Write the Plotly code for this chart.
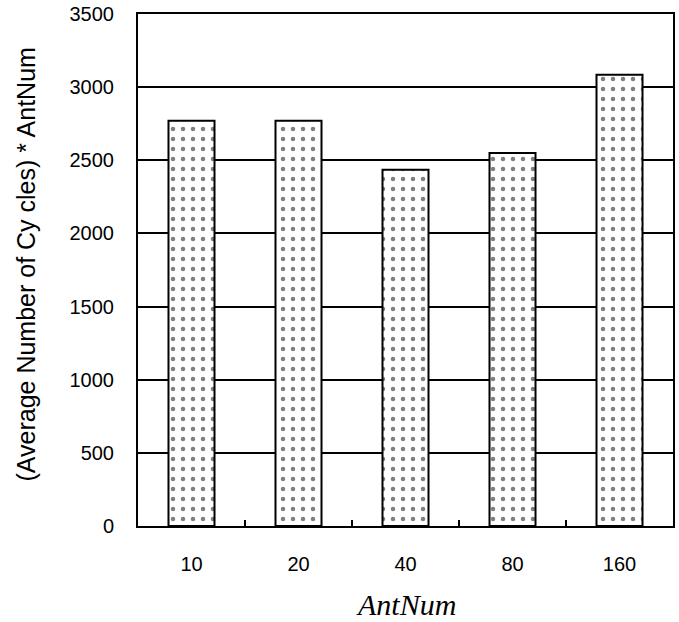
import plotly.graph_objects as go

categories = ["10", "20", "40", "80", "160"]
values = [2770, 2770, 2435, 2550, 3085]
y_ticks = [0, 500, 1000, 1500, 2000, 2500, 3000, 3500]

fig = go.Figure()
fig.add_trace(go.Bar(
    x=categories,
    y=values,
    marker=dict(
        color="white",
        line=dict(color="black", width=2),
        pattern=dict(shape=".", fgcolor="black", bgcolor="white", size=10, solidity=0.16, fillmode="overlay"),
    ),
))

fig.update_layout(
    width=679, height=622,
    margin=dict(l=138, r=6, t=14, b=96, autoexpand=False),
    paper_bgcolor="white", plot_bgcolor="white",
    bargap=0.57,
    showlegend=False,
    font=dict(family="Liberation Sans, Arial", color="black"),
)
fig.update_xaxes(
    type="category", automargin=False,
    showline=True, linecolor="black", linewidth=2, mirror=True,
    ticks="inside", tickson="boundaries", ticklen=6, tickwidth=2, tickcolor="black",
    tickfont=dict(size=20, family="Liberation Sans, Arial", color="black"),
    ticklabelstandoff=19,
    showgrid=False,
)
fig.update_yaxes(
    range=[0, 3500], tickvals=y_ticks, automargin=False,
    ticklabeloverflow="allow",
    showline=True, linecolor="black", linewidth=2, mirror=True,
    showgrid=True, gridcolor="black", gridwidth=2,
    ticks="", zeroline=False,
    tickfont=dict(size=20, family="Liberation Sans, Arial", color="black"),
    ticklabelstandoff=18,
)
fig.add_annotation(
    text="(Average Number of Cy cles) * AntNum",
    xref="paper", yref="paper", x=-0.21, y=0.51,
    xanchor="center", yanchor="middle", textangle=-90, showarrow=False,
    font=dict(size=25, family="Liberation Sans, Arial", color="black"),
)
fig.add_annotation(
    text="AntNum",
    xref="paper", yref="paper", x=0.5, y=-0.154,
    xanchor="center", yanchor="middle", showarrow=False,
    font=dict(family="Liberation Serif, Times New Roman", size=30, style="italic", color="black"),
)

fig.write_html("out.html", config={"displayModeBar": False},
               post_script="document.body.style.margin='0';")
